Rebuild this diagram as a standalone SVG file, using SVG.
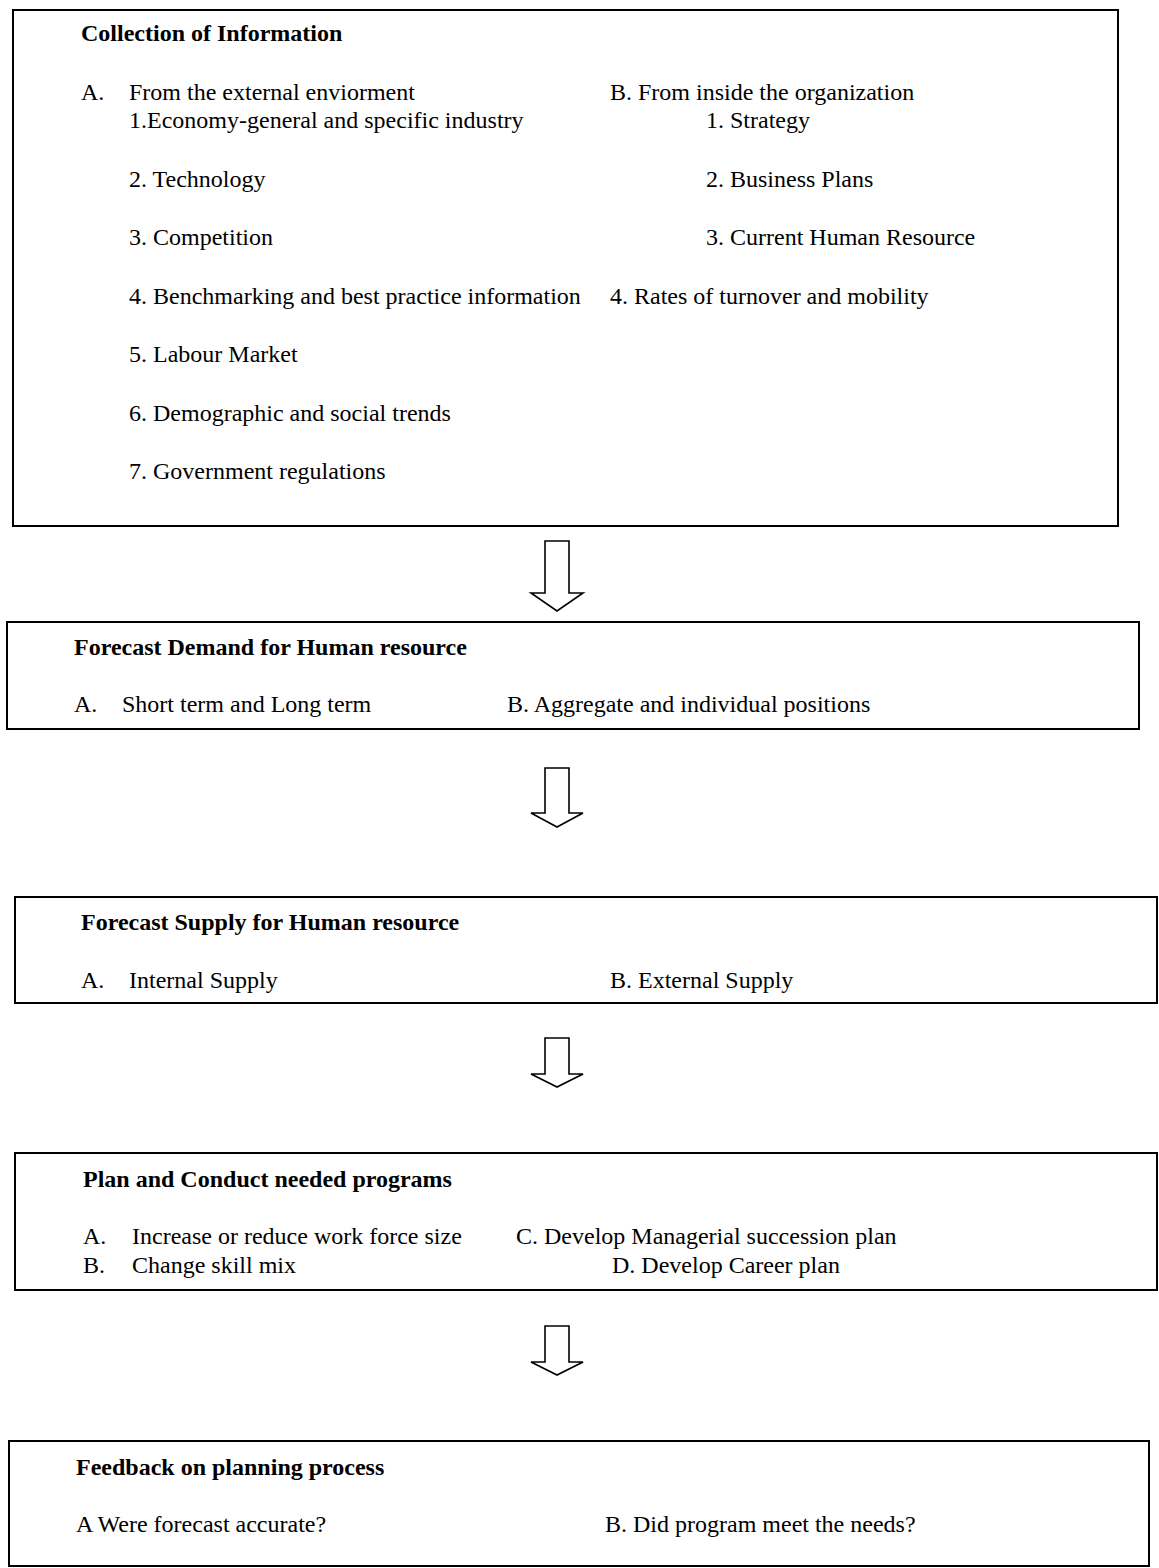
<svg xmlns="http://www.w3.org/2000/svg" width="1159" height="1568" viewBox="0 0 1159 1568">
<style>
.box{fill:none;stroke:#000;stroke-width:2}
.t{font-family:"Liberation Serif","Times New Roman",serif;font-size:24px;fill:#000}
.b{font-weight:bold}
.arr{fill:#fff;stroke:#000;stroke-width:1.6;stroke-linejoin:miter}
</style>
<rect width="1159" height="1568" fill="#fff"/>
<g id="node-collection">
<rect class="box" x="13" y="10" width="1105" height="516"/>
<text class="t b" x="81" y="41">Collection of Information</text>
<text class="t" x="81" y="100">A.</text>
<text class="t" x="129" y="100">From the external enviorment</text>
<text class="t" x="610" y="100">B. From inside the organization</text>
<text class="t" x="129" y="128">1.Economy-general and specific industry</text>
<text class="t" x="706" y="128">1. Strategy</text>
<text class="t" x="129" y="187">2. Technology</text>
<text class="t" x="706" y="187">2. Business Plans</text>
<text class="t" x="129" y="245">3. Competition</text>
<text class="t" x="706" y="245">3. Current Human Resource</text>
<text class="t" x="129" y="304">4. Benchmarking and best practice information</text>
<text class="t" x="610" y="304">4. Rates of turnover and mobility</text>
<text class="t" x="129" y="362">5. Labour Market</text>
<text class="t" x="129" y="421">6. Demographic and social trends</text>
<text class="t" x="129" y="479">7. Government regulations</text>
</g>
<g id="node-demand">
<rect class="box" x="7" y="622" width="1132" height="107"/>
<text class="t b" x="74" y="655">Forecast Demand for Human resource</text>
<text class="t" x="74" y="712">A.</text>
<text class="t" x="122" y="712">Short term and Long term</text>
<text class="t" x="507" y="712">B. Aggregate and individual positions</text>
</g>
<g id="node-supply">
<rect class="box" x="15" y="897" width="1142" height="106"/>
<text class="t b" x="81" y="930">Forecast Supply for Human resource</text>
<text class="t" x="81" y="988">A.</text>
<text class="t" x="129" y="988">Internal Supply</text>
<text class="t" x="610" y="988">B. External Supply</text>
</g>
<g id="node-programs">
<rect class="box" x="15" y="1153" width="1142" height="137"/>
<text class="t b" x="83" y="1187">Plan and Conduct needed programs</text>
<text class="t" x="83" y="1244">A.</text>
<text class="t" x="132" y="1244">Increase or reduce work force size</text>
<text class="t" x="516" y="1244">C. Develop Managerial succession plan</text>
<text class="t" x="83" y="1273">B.</text>
<text class="t" x="132" y="1273">Change skill mix</text>
<text class="t" x="612" y="1273">D. Develop Career plan</text>
</g>
<g id="node-feedback">
<rect class="box" x="9" y="1441" width="1140" height="125"/>
<text class="t b" x="76" y="1475">Feedback on planning process</text>
<text class="t" x="76" y="1532">A Were forecast accurate?</text>
<text class="t" x="605" y="1532">B. Did program meet the needs?</text>
</g>
<g id="connectors">
<path class="arr" d="M545,541 H569 V593 H583 L557,611 L531,593 H545 Z"/>
<path class="arr" d="M545,768 H569 V813 H583 L557,827 L531,813 H545 Z"/>
<path class="arr" d="M545,1038 H569 V1074 H583 L557,1087 L531,1074 H545 Z"/>
<path class="arr" d="M545,1326 H569 V1362 H583 L557,1375 L531,1362 H545 Z"/>
</g>
</svg>
